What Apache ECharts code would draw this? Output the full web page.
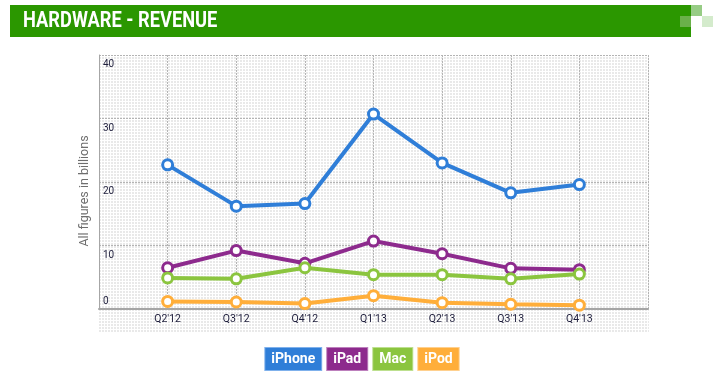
<!DOCTYPE html>
<html>
<head>
<meta charset="utf-8">
<script src="https://cdn.jsdelivr.net/npm/echarts@6/dist/echarts.min.js"></script>
<style>
html,body{margin:0;padding:0;background:#fff;}
#chart{width:720px;height:378px;}
</style>
</head>
<body>
<div id="chart"></div>
<script>
var categories = ["Q2'12", "Q3'12", "Q4'12", "Q1'13", "Q2'13", "Q3'13", "Q4'13"];
var iphone = [22.7, 16.2, 16.6, 30.7, 23.0, 18.3, 19.6];
var ipad = [6.5, 9.2, 7.2, 10.7, 8.7, 6.4, 6.2];
var mac = [4.9, 4.75, 6.5, 5.4, 5.4, 4.75, 5.5];
var ipod = [1.2, 1.1, 0.85, 2.1, 1.0, 0.75, 0.6];
var yTicks = [0, 10, 20, 30, 40];
var seriesNames = ['iPhone', 'iPad', 'Mac', 'iPod'];
var seriesData = [iphone, ipad, mac, ipod];
var colors = ['#2f7ed8', '#8d2a8d', '#8bc53f', '#ffae3a'];
var borders = ['#7fb1ec', '#bd80bd', '#bde08f', '#ffd08e'];
var titleText = 'HARDWARE - REVENUE';

function pts(arr) {
  return arr.map(function (v, i) { return [i + 1, v]; });
}

// dotted texture
var pc = document.createElement('canvas');
pc.width = 3; pc.height = 3;
var pctx = pc.getContext('2d');
pctx.fillStyle = '#ffffff';
pctx.fillRect(0, 0, 3, 3);
pctx.fillStyle = '#e9e9e9';
pctx.fillRect(0, 0, 2, 2);

var chart = echarts.init(document.getElementById('chart'), null, {renderer: 'canvas'});
var font = 'Roboto';

var option = {
  animation: false,
  graphic: [
    {type: 'rect', z: -10, shape: {x: 10, y: 5, width: 681, height: 32}, style: {fill: '#2b9700'}},
    {type: 'rect', z: -10, shape: {x: 680, y: 16, width: 11, height: 11}, style: {fill: '#6ab04a'}},
    {type: 'rect', z: -10, shape: {x: 691, y: 5, width: 11, height: 11}, style: {fill: '#97cc85'}},
    {type: 'rect', z: -10, shape: {x: 702, y: 16, width: 11, height: 11}, style: {fill: '#d4ebcc'}},
    {type: 'rect', z: -10, shape: {x: 99, y: 55, width: 550, height: 277}, style: {fill: {image: pc, repeat: 'repeat'}}},
    {type: 'text', z: 10, x: 23, y: 21, scaleX: 0.83,
      style: {text: titleText, fill: '#ffffff', font: 'bold 22px Roboto', textAlign: 'left', textVerticalAlign: 'middle', verticalAlign: 'middle'}}
  ],
  legend: {
    top: 342,
    left: 'center',
    icon: 'none',
    itemWidth: 0,
    itemGap: 0,
    data: seriesNames.map(function (n, i) {
      return {
        name: n,
        textStyle: {
          color: '#fff', fontFamily: font, fontWeight: 'bold', fontSize: 14, lineHeight: 16,
          backgroundColor: colors[i], borderColor: borders[i], borderWidth: 1,
          padding: [3, 6, 3, 6]
        }
      };
    })
  },
  grid: {left: 99, right: 72, top: 55, bottom: 69},
  xAxis: {
    type: 'value', min: 0, max: 8, interval: 1,
    axisLine: {show: true, onZero: false, lineStyle: {color: '#a6a6a6', width: 2}},
    axisTick: {show: false},
    axisLabel: {
      color: '#1e1e3c', fontFamily: font, fontSize: 10.5, margin: 5,
      formatter: function (v) { return categories[v - 1] || ''; }
    },
    splitLine: {show: true, lineStyle: {color: '#b4b4b4', type: [2, 1], width: 1}}
  },
  yAxis: {
    type: 'value', min: yTicks[0], max: yTicks[yTicks.length - 1], interval: 10,
    name: 'All figures in billions', nameLocation: 'middle', nameGap: 6,
    nameTextStyle: {color: '#6e6e6e', fontFamily: font, fontSize: 12.5, padding: [0, 18, 0, 0]},
    axisLine: {show: true, lineStyle: {color: '#a6a6a6', width: 1}},
    axisTick: {show: false},
    axisLabel: {
      inside: true, margin: 4, color: '#1e1e3c', fontFamily: font, fontSize: 10,
      formatter: function (v) { return v === 0 ? '{a|' + v + '}' : '{b|' + v + '}'; },
      rich: {
        a: {padding: [0, 0, 15, 0], fontFamily: font, fontSize: 10, color: '#1e1e3c'},
        b: {padding: [19, 0, 0, 0], fontFamily: font, fontSize: 10, color: '#1e1e3c'}
      }
    },
    splitLine: {show: true, lineStyle: {color: '#b4b4b4', type: [2, 1], width: 1}}
  },
  series: seriesNames.map(function (n, i) {
    return {
      name: n, type: 'line', data: pts(seriesData[i]),
      symbol: 'circle', symbolSize: 10, showAllSymbol: true,
      lineStyle: {color: colors[i], width: 4},
      itemStyle: {color: '#ffffff', borderColor: colors[i], borderWidth: 3},
      emphasis: {disabled: true}
    };
  })
};
chart.setOption(option);
</script>
</body>
</html>
